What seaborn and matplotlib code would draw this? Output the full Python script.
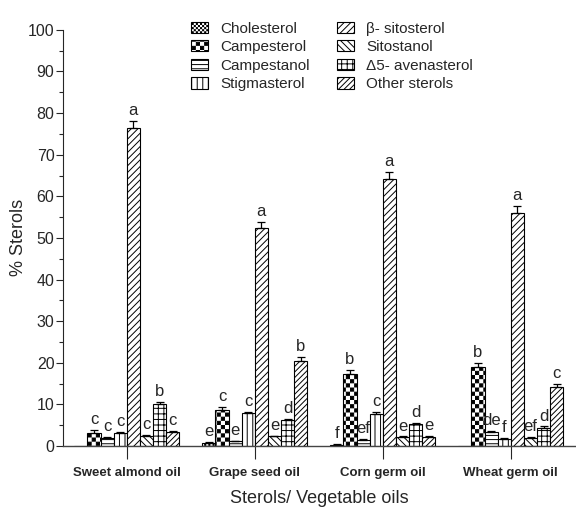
import numpy as np
import pandas as pd
import seaborn as sns
import matplotlib.pyplot as plt
import matplotlib.hatch as mhatch
from matplotlib.path import Path
from matplotlib.ticker import MultipleLocator

oils = ["Sweet almond oil", "Grape seed oil", "Corn germ oil", "Wheat germ oil"]
sterols = ["Cholesterol", "Campesterol", "Campestanol", "Stigmasterol",
           "β- sitosterol", "Sitostanol", "Δ5- avenasterol", "Other sterols"]

# % sterols per oil, same order as sterols
sweet_almond = [0.0, 3.1, 1.9, 3.1, 76.3, 2.5, 10.1, 3.3]
grape_seed = [0.8, 8.7, 1.1, 7.9, 52.5, 2.3, 6.2, 20.5]
corn_germ = [0.3, 17.4, 1.5, 7.8, 64.2, 2.1, 5.2, 2.1]
wheat_germ = [0.0, 19.0, 3.3, 1.7, 56.1, 2.0, 4.3, 14.1]

# upper error (SD)
sweet_almond_err = [0.0, 0.8, 0.3, 0.3, 1.8, 0.2, 0.4, 0.4]
grape_seed_err = [0.2, 0.7, 0.2, 0.3, 1.3, 0.2, 0.3, 0.9]
corn_germ_err = [0.1, 0.9, 0.2, 0.3, 1.6, 0.2, 0.3, 0.3]
wheat_germ_err = [0.0, 1.0, 0.3, 0.3, 1.5, 0.2, 0.4, 0.9]

# significance letters
sweet_almond_lbl = ["", "c", "c", "c", "a", "c", "b", "c"]
grape_seed_lbl = ["e", "c", "e", "c", "a", "e", "d", "b"]
corn_germ_lbl = ["f", "b", "ef", "c", "a", "e", "d", "e"]
wheat_germ_lbl = ["", "b", "de", "f", "a", "ef", "d", "c"]

values = [sweet_almond, grape_seed, corn_germ, wheat_germ]
errors = [sweet_almond_err, grape_seed_err, corn_germ_err, wheat_germ_err]
letters = [sweet_almond_lbl, grape_seed_lbl, corn_germ_lbl, wheat_germ_lbl]


# checkerboard hatch (reuses the 'o' character, circles are not needed here)
class CheckerHatch(mhatch.HatchPatternBase):
    def __init__(self, hatch, density):
        self.n = 24 * hatch.count('o')
        self.num_squares = (self.n * self.n) // 2
        self.num_vertices = self.num_squares * 5

    def set_vertices_and_codes(self, vertices, codes):
        s = 1.0 / self.n
        inset = 0.005
        k = 0
        for i in range(self.n):
            for j in range(self.n):
                if (i + j) % 2:
                    continue
                x0, y0 = i * s + inset, j * s + inset
                x1, y1 = (i + 1) * s - inset, (j + 1) * s - inset
                vertices[k:k + 5] = [[x0, y0], [x1, y0], [x1, y1], [x0, y1], [x0, y0]]
                codes[k:k + 5] = [Path.MOVETO, Path.LINETO, Path.LINETO,
                                  Path.LINETO, Path.CLOSEPOLY]
                k += 5


mhatch._hatch_types = [t for t in mhatch._hatch_types
                       if t is not mhatch.SmallCircles] + [CheckerHatch]

hatches = ['oo', 'o', '----', '|||', '/////', '\\\\\\\\\\', '+++', '//////']

rows = []
for oil, vals in zip(oils, values):
    for st, v in zip(sterols, vals):
        rows.append({"Oil": oil, "Sterol": st, "Value": v})
df = pd.DataFrame(rows)

sns.set_style("ticks")
plt.rcParams['font.family'] = ['Liberation Sans', 'DejaVu Sans']
plt.rcParams['hatch.linewidth'] = 0.7
plt.rcParams['hatch.color'] = 'black'

fig = plt.figure(figsize=(5.76, 5.15), dpi=100)
ax = fig.add_axes([0.109, 0.134, 0.889, 0.808])

sns.barplot(data=df, x="Oil", y="Value", hue="Sterol", order=oils,
            hue_order=sterols, palette=['white'] * len(sterols),
            edgecolor='black', linewidth=0.8, errorbar=None, width=0.82,
            saturation=1, ax=ax)

bar_conts = list(ax.containers)
for i, cont in enumerate(bar_conts):
    for j, bar in enumerate(cont.patches):
        bar.set_hatch(hatches[i])
        bar.set_edgecolor('black')
        xc = bar.get_x() + bar.get_width() / 2
        h = bar.get_height()
        e = errors[j][i]
        if e > 0:
            ax.errorbar(xc, h, yerr=[[0], [e]], fmt='none', ecolor='black',
                        elinewidth=0.9, capsize=3, capthick=0.9)
        if letters[j][i]:
            ax.text(xc, h + e + 0.7, letters[j][i], ha='center', va='bottom',
                    fontsize=12)

ax.set_ylim(0, 100)
ax.set_xlim(-0.5, 3.5)
ax.yaxis.set_major_locator(MultipleLocator(10))
ax.yaxis.set_minor_locator(MultipleLocator(5))
ax.tick_params(axis='y', which='major', length=5, width=0.8, labelsize=11.5, pad=1)
ax.tick_params(axis='y', which='minor', length=3, width=0.8)
ax.tick_params(axis='x', length=9, width=0.8, pad=6)
for lab in ax.get_xticklabels():
    lab.set_fontweight('bold')
    lab.set_fontsize(9.5)

sns.despine(ax=ax)
ax.spines['left'].set_linewidth(0.8)
ax.spines['bottom'].set_linewidth(1.0)
ax.spines['bottom'].set_color('#444444')

ax.set_ylabel("% Sterols", fontsize=13, labelpad=0.5)
ax.set_xlabel("Sterols/ Vegetable oils", fontsize=13, labelpad=8)

handles, labels = ax.get_legend_handles_labels()
for h, hat in zip(handles, hatches):
    h.set_hatch(hat)
    h.set_edgecolor('black')
ax.legend(handles, labels, ncol=2, frameon=False, fontsize=11,
          loc='upper left', bbox_to_anchor=(0.332, 0.958),
          bbox_transform=fig.transFigure, handlelength=1.1, handleheight=0.75,
          labelspacing=0.3, columnspacing=1.8, handletextpad=0.8,
          borderpad=0, borderaxespad=0)

plt.savefig("out.png", dpi=100)
